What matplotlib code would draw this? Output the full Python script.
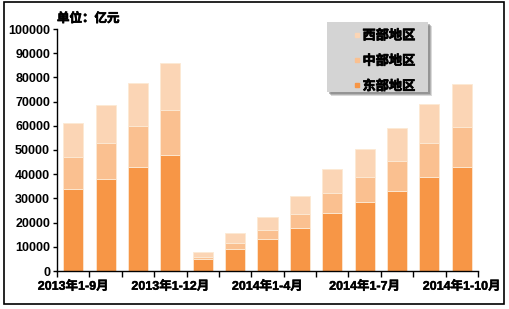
import matplotlib.pyplot as plt
import numpy as np
from matplotlib.patches import Rectangle
from matplotlib.lines import Line2D
import matplotlib.patheffects as pe

plt.rcParams["font.family"] = ["Liberation Sans", "Noto Sans CJK SC", "DejaVu Sans"]

categories = ["2013年1-9月", "2013年1-10月", "2013年1-11月", "2013年1-12月",
              "2014年1-2月", "2014年1-3月", "2014年1-4月", "2014年1-5月",
              "2014年1-6月", "2014年1-7月", "2014年1-8月", "2014年1-9月",
              "2014年1-10月"]
# cumulative totals (亿元)
east = [33900, 38000, 42800, 47800, 4800, 9000, 13100, 17900, 24100, 28600, 33200, 38700, 43100]
east_mid = [47200, 52900, 60000, 66500, 5900, 11700, 17000, 23500, 32100, 38700, 45500, 52800, 59400]
total = [61000, 68600, 77700, 86000, 8000, 15600, 22200, 31000, 42100, 50300, 59000, 69000, 77300]
series_names = ["东部地区", "中部地区", "西部地区"]
colors = ["#F79646", "#FAC090", "#FBD5B5"]

east = np.array(east)
mid = np.array(east_mid) - east
west = np.array(total) - np.array(east_mid)

W, H = 510, 309
fig = plt.figure(figsize=(W / 100, H / 100), dpi=100)
ax = fig.add_axes([57 / W, 1 - 271 / H, 421 / W, 242 / H])

bold_fx = [pe.withStroke(linewidth=0.5, foreground="black")]

x = np.arange(len(categories))
w = 0.62
bottoms = [np.zeros(len(x)), east, east + mid]
for vals, b, c, n in zip([east, mid, west], bottoms, colors, series_names):
    ax.bar(x, vals, w, bottom=b, color=c, edgecolor="#FCE9D4", linewidth=0.6, label=n)

ax.set_xlim(-0.5, len(categories) - 0.5)
ax.set_ylim(0, 100000)
ax.set_yticks(np.arange(0, 100001, 10000))
ax.tick_params(axis="y", labelsize=9, length=3, width=1, pad=2)
for t in ax.get_yticklabels():
    t.set_fontweight("bold")

ax.set_xticks(x[::3])
ax.set_xticklabels(categories[::3], fontsize=9, fontweight="bold")
for t in ax.get_xticklabels():
    t.set_path_effects([pe.withStroke(linewidth=0.3, foreground="black")])
ax.set_xticks(np.arange(-0.5, len(categories), 1), minor=True)
ax.tick_params(axis="x", which="major", length=0, pad=7)
ax.tick_params(axis="x", which="minor", length=4, width=1, direction="out")

for s in ["top", "right"]:
    ax.spines[s].set_visible(False)
for s in ["left", "bottom"]:
    ax.spines[s].set_linewidth(1)

fig.text(57 / W, 1 - 19 / H, "单位：亿元", fontsize=9, fontweight="bold", va="center",
         path_effects=bold_fx)

# legend box with drop shadow
for off, a in [(4, 0.25), (3, 0.35), (2, 0.45)]:
    fig.patches.append(Rectangle(((327 + off) / W, 1 - (92 + off) / H), 101 / W, 70 / H,
                                 transform=fig.transFigure, facecolor="#6E6E6E",
                                 edgecolor="none", alpha=a))
fig.patches.append(Rectangle((327 / W, 1 - 92 / H), 101 / W, 70 / H, transform=fig.transFigure,
                             facecolor="#D4D4D4", edgecolor="none"))

handles = [Line2D([], [], linestyle="none", marker="s", markersize=3.2,
                  markerfacecolor=c, markeredgecolor=c) for c in colors[::-1]]
leg = fig.legend(handles, series_names[::-1], loc="upper left",
                 bbox_to_anchor=(346 / W, 1 - 23 / H), frameon=False,
                 handlelength=0.6, handletextpad=0.15, labelspacing=0.95, borderpad=0,
                 prop={"size": 9.5, "weight": "bold"})
for t in leg.get_texts():
    t.set_path_effects(bold_fx)

fig.patches.append(Rectangle((4 / W, 5 / H), 500 / W, 302 / H, transform=fig.transFigure,
                             fill=False, edgecolor="black", linewidth=1.2))

fig.savefig("out.png", dpi=100)
